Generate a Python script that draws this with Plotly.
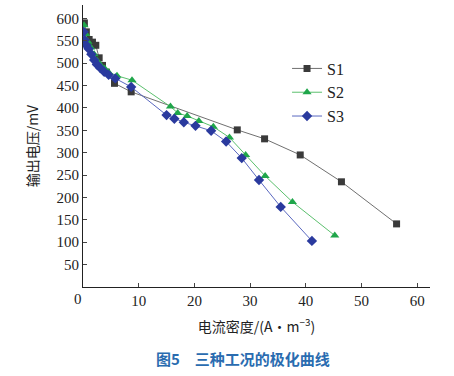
import plotly.graph_objects as go

s1_x = [0.25, 0.6, 1.1, 1.7, 2.3, 2.9, 3.5, 4.2, 5.65, 8.65, 27.7, 32.6, 39.0, 46.4, 56.3]
s1_v = [590, 570, 553, 547, 540, 512, 495, 480, 455, 436, 351, 331, 295, 235, 141]

s2_x = [0.2, 0.5, 0.9, 1.4, 2.0, 2.6, 3.2, 3.9, 4.6, 6.1, 8.8, 15.7, 17.0, 18.7, 20.8, 23.4, 26.3, 29.2, 32.7, 37.6, 45.2]
s2_v = [585, 565, 548, 535, 520, 505, 495, 488, 480, 472, 462, 403, 389, 382, 371, 358, 334, 295, 248, 190, 115]

s3_x = [0.1, 0.3, 0.6, 1.0, 1.5, 2.0, 2.5, 3.1, 3.8, 4.6, 5.8, 8.65, 15.0, 16.4, 18.1, 20.2, 23.0, 25.7, 28.5, 31.6, 35.5, 41.1]
s3_v = [570, 552, 540, 532, 520, 507, 497, 489, 481, 474, 466, 447, 384, 376, 368, 360, 349, 325, 288, 239, 179, 103]

x_ticks = [10, 20, 30, 40, 50, 60]
y_ticks = [50, 100, 150, 200, 250, 300, 350, 400, 450, 500, 550, 600]

serif = "Liberation Serif, Times New Roman, serif"
cjk = "Noto Sans CJK SC, sans-serif"

fig = go.Figure()
fig.add_trace(go.Scatter(x=s1_x, y=s1_v, name="S1", mode="lines+markers",
                         line=dict(color="#707070", width=1),
                         marker=dict(symbol="square", size=7, color="#3a3a3a")))
fig.add_trace(go.Scatter(x=s2_x, y=s2_v, name="S2", mode="lines+markers",
                         line=dict(color="#5cc06e", width=1),
                         marker=dict(symbol="triangle-up", size=8, color="#1fa64a")))
fig.add_trace(go.Scatter(x=s3_x, y=s3_v, name="S3", mode="lines+markers",
                         line=dict(color="#5a68c0", width=1),
                         marker=dict(symbol="diamond", size=8, color="#2a3a9e")))

fig.update_layout(
    width=454, height=376,
    margin=dict(l=83, r=24, t=5, b=89),
    paper_bgcolor="white", plot_bgcolor="white",
    showlegend=True,
    legend=dict(x=0.588, y=0.835, xanchor="left", yanchor="top",
                font=dict(family=serif, size=16, color="#222"),
                bgcolor="rgba(0,0,0,0)", tracegroupgap=0, itemwidth=30),
    font=dict(family=serif, color="#222"),
)
fig.update_xaxes(range=[0, 62.3], tickvals=x_ticks, ticks="inside", ticklen=4, automargin=False,
                 showline=True, linecolor="#222", linewidth=1, showgrid=False, zeroline=False,
                 tickfont=dict(family=serif, size=15, color="#222"),
                 title=dict(text="电流密度/(A·m<sup>−3</sup>)", font=dict(family=cjk, size=14, color="#222"), standoff=14))
fig.update_yaxes(range=[0, 630], tickvals=y_ticks, ticks="inside", ticklen=4, automargin=False,
                 showline=True, linecolor="#222", linewidth=1, showgrid=False, zeroline=False,
                 tickfont=dict(family=serif, size=15, color="#222"),
                 title=dict(text="输出电压/mV", font=dict(family=cjk, size=14, color="#222"), standoff=14))
fig.add_annotation(text="0", x=-0.015, y=-0.042, xref="paper", yref="paper",
                   xanchor="center", yanchor="middle", showarrow=False,
                   font=dict(family=serif, size=15, color="#222"))
fig.add_annotation(text="<b>图5　三种工况的极化曲线</b>", x=0.46, y=-0.255, xref="paper", yref="paper",
                   xanchor="center", yanchor="middle", showarrow=False,
                   font=dict(family=cjk, size=15, color="#2a6cb0"))

fig.write_html("out.html", config={"displayModeBar": False},
               post_script="document.body.style.margin='0';")
